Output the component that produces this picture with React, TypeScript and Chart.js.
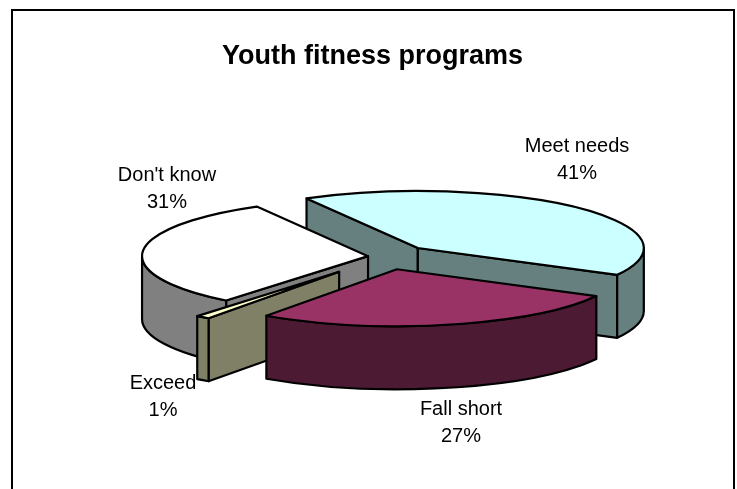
import React, { useEffect, useRef } from "react";
import { Chart, registerables } from "chart.js";

Chart.register(...registerables);

const TITLE = "Youth fitness programs";
const categories = ["Meet needs", "Fall short", "Exceed", "Don't know"];
const shares = [41, 27, 1, 31];
const faceColors = ["#CCFFFF", "#993366", "#FFFFCC", "#FFFFFF"];

const FONT = '"Liberation Sans", Arial, sans-serif';

function halve(hex: string) {
  const n = parseInt(hex.slice(1), 16);
  const c = [(n >> 16) & 255, (n >> 8) & 255, n & 255].map((v) => Math.round(v / 2));
  return `rgb(${c[0]},${c[1]},${c[2]})`;
}

const pie3d = {
  id: "pie3d",
  afterLayout(chart: any, _args: any, opts: any) {
    // the title is centred on the frame, not on the pie
    if (chart.titleBlock) chart.titleBlock.left -= opts.titleShift;
  },
  beforeDraw(chart: any) {
    const { ctx } = chart;
    ctx.save();
    ctx.fillStyle = "#fff";
    ctx.fillRect(0, 0, chart.width, chart.height);
    ctx.strokeStyle = "#000";
    ctx.lineWidth = 2;
    ctx.beginPath();
    ctx.moveTo(12, chart.height);
    ctx.lineTo(12, 10);
    ctx.lineTo(734, 10);
    ctx.lineTo(734, chart.height);
    ctx.stroke();
    ctx.restore();
  },
  beforeDatasetDraw(chart: any, args: any, opts: any) {
    const { ctx } = chart;
    const meta = chart.getDatasetMeta(args.index);
    const colors = chart.data.datasets[args.index].backgroundColor;
    const k = opts.tilt;
    const depth = opts.depth;
    ctx.save();
    ctx.lineWidth = opts.lineWidth;
    ctx.strokeStyle = "#000";
    ctx.lineJoin = "round";
    for (const i of opts.order) {
      const arc = meta.data[i];
      const mid = (arc.startAngle + arc.endAngle) / 2;
      const cx = arc.x + Math.cos(mid) * opts.explode[i];
      const cy = arc.y + Math.sin(mid) * opts.explode[i] * k;
      const r = arc.outerRadius;
      const a0 = arc.startAngle;
      const a1 = arc.endAngle;
      const px = (a: number) => cx + r * Math.cos(a);
      const py = (a: number) => cy + r * k * Math.sin(a);
      const wall = halve(colors[i]);
      ctx.fillStyle = wall;
      // radial walls, only those facing the viewer
      const radial: number[] = [];
      if (Math.cos(a0) < 0) radial.push(a0);
      if (Math.cos(a1) > 0) radial.push(a1);
      for (const a of radial) {
        ctx.beginPath();
        ctx.moveTo(cx, cy);
        ctx.lineTo(px(a), py(a));
        ctx.lineTo(px(a), py(a) + depth);
        ctx.lineTo(cx, cy + depth);
        ctx.closePath();
        ctx.fill();
        ctx.stroke();
      }
      // outer wall, only the part facing the viewer
      const from = Math.max(a0, 0);
      const to = Math.min(a1, Math.PI);
      if (to > from) {
        ctx.beginPath();
        ctx.ellipse(cx, cy, r, r * k, 0, from, to);
        ctx.lineTo(px(to), py(to) + depth);
        ctx.ellipse(cx, cy + depth, r, r * k, 0, to, from, true);
        ctx.closePath();
        ctx.fill();
        ctx.stroke();
      }
      // top face
      ctx.fillStyle = colors[i];
      ctx.beginPath();
      ctx.moveTo(cx, cy);
      ctx.ellipse(cx, cy, r, r * k, 0, a0, a1);
      ctx.closePath();
      ctx.fill();
      ctx.stroke();
    }
    ctx.restore();
    return false;
  },
  afterDatasetsDraw(chart: any, _args: any, opts: any) {
    const { ctx } = chart;
    const ds = chart.data.datasets[0];
    const total = ds.data.reduce((a: number, b: number) => a + b, 0);
    ctx.save();
    ctx.fillStyle = "#000";
    ctx.font = `${opts.labelSize}px ${FONT}`;
    ctx.textAlign = "center";
    ctx.textBaseline = "middle";
    chart.data.labels.forEach((name: string, i: number) => {
      const [x, y] = opts.labelAt[i];
      ctx.fillText(name, x, y);
      ctx.fillText(`${Math.round((ds.data[i] / total) * 100)}%`, x, y + 27);
    });
    ctx.restore();
  },
};

export default function App() {
  const ref = useRef<HTMLCanvasElement>(null);
  useEffect(() => {
    const chart = new Chart(ref.current!, {
      type: "pie",
      data: {
        labels: categories,
        datasets: [{ data: shares, backgroundColor: faceColors, borderWidth: 0 }],
      },
      options: {
        animation: false,
        responsive: false,
        rotation: -29.5,
        layout: { padding: { left: 33, right: 0, top: 0, bottom: 6.5 } },
        plugins: {
          legend: { display: false },
          tooltip: { enabled: false },
          title: {
            display: true,
            text: TITLE,
            color: "#000",
            font: { family: FONT, size: 27, weight: "bold" },
            padding: { top: 40, bottom: -41.9 },
          },
          pie3d: {
            tilt: 0.252,
            depth: 63,
            lineWidth: 2.2,
            explode: [47, 52, 76, 17],
            order: [0, 3, 2, 1],
            titleShift: 25,
            labelSize: 20,
            labelAt: [
              [577, 146],
              [461, 409],
              [163, 383],
              [167, 175],
            ],
          },
        } as any,
      },
      plugins: [pie3d as any],
    });
    return () => chart.destroy();
  }, []);
  return (
    <div style={{ position: "fixed", left: 0, top: 0, width: 737, height: 489 }}>
      <canvas ref={ref} width={737} height={489} style={{ display: "block" }} />
    </div>
  );
}
